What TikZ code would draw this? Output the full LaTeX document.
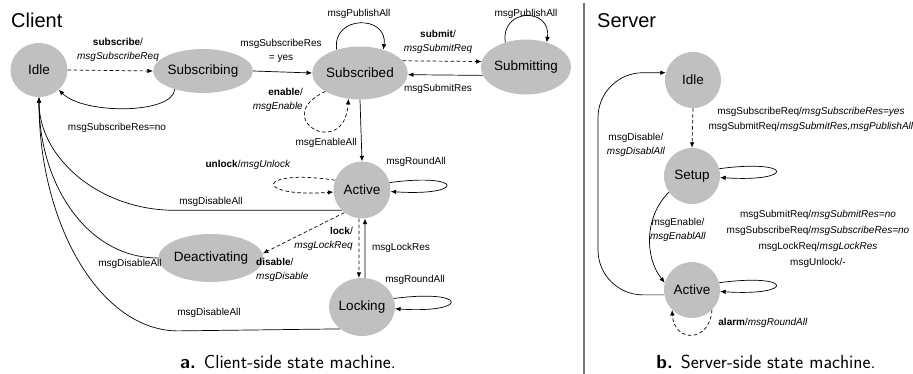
\documentclass[tikz,border=0pt]{standalone}
\usepackage{fontspec}
\setmainfont{Liberation Sans}
\usetikzlibrary{shapes.geometric,arrows.meta}
\definecolor{stategray}{RGB}{192,192,192}
\definecolor{divgray}{RGB}{120,120,120}
\tikzset{
 state/.style={ellipse, fill=stategray, inner sep=0pt, font=\fontsize{13.5}{15}\selectfont},
 lbl/.style={font=\fontsize{10}{14}\selectfont, inner sep=0pt, align=center},
 tr/.style={line width=0.7pt, -{Latex[length=5.5pt,width=4.5pt]}},
 dtr/.style={tr, dash pattern=on 3.5pt off 2.5pt},
 ttl/.style={font=\fontsize{20}{24}\selectfont, inner sep=0pt, anchor=base west},
 captext/.style={font=\sffamily\fontsize{19}{22}\selectfont, inner sep=0pt},
}
\begin{document}
\begin{tikzpicture}[x=1pt,y=1pt]
\useasboundingbox (0,0) rectangle (913,-374);
% ---------------- Client ----------------
\node[ttl] (ctitle) at (11,-28) {Client};
\node[state, minimum width=57pt, minimum height=54pt] (cidle) at (39,-70) {Idle};
\node[state, minimum width=80pt, minimum height=44pt] (csubing) at (203,-71) {Subscribing};
\node[state, minimum width=76pt, minimum height=53pt] (csubed) at (360,-73) {Subscribed};
\node[state, minimum width=72pt, minimum height=55pt] (csubmit) at (526,-67) {Submitting};
\node[state, minimum width=57pt, minimum height=57pt] (cactive) at (362,-190) {Active};
\node[state, minimum width=81pt, minimum height=48pt] (cdeact) at (211,-258) {Deactivating};
\node[state, minimum width=57pt, minimum height=58pt] (clock) at (362,-307) {Locking};

\draw[dtr] (cidle.east) -- (csubing.west);
\node[lbl] (l1) at (118,-50) {\textbf{subscribe}/\\\textit{msgSubscribeReq}};
\draw[tr] (csubing.213) .. controls +(-2,-25) and +(25,-25) .. (cidle.-45);
\node[lbl] (l2) at (117,-128) {msgSubscribeRes=no};
\draw[tr] (csubing.east) -- (csubed.west);
\node[lbl] (l3) at (281,-51) {msgSubscribeRes\\= yes};
\draw[tr] (csubed.135) .. controls +(-5,35) and +(5,35) .. (csubed.45);
\node[lbl] (l4) at (359,-14) {msgPublishAll};
\draw[dtr] (csubed.16) -- (csubmit.173);
\node[lbl] (l5) at (438,-42) {\textbf{submit}/\\\textit{msgSubmitReq}};
\draw[tr] (csubmit.191) -- (csubed.-2);
\node[lbl] (l6) at (438,-89) {msgSubmitRes};
\draw[tr] (csubmit.130) .. controls +(-5,35) and +(5,35) .. (csubmit.50);
\node[lbl] (l7) at (526,-14) {msgPublishAll};
\draw[dtr] (csubed.208) .. controls +(-57,-27) and +(-4,-62) .. (csubed.246);
\node[lbl, anchor=east, align=right] (l8) at (303,-100) {\textbf{enable}/\\\textit{msgEnable}};
\draw[tr] (csubed.south) -- (cactive.north);
\node[lbl, anchor=east] (l9) at (357,-143) {msgEnableAll};
\draw[tr] (cactive.15) .. controls +(75,10) and +(75,-5) .. (cactive.-3);
\node[lbl] (l10) at (416,-162) {msgRoundAll};
\draw[dtr] (cactive.160) .. controls +(-80,12) and +(-80,-6) .. (cactive.184);
\node[lbl] (l11) at (248,-165) {\textbf{unlock}/\textit{msgUnlock}};
\draw[tr] (cactive.225) -- ++(-167,0) .. controls +(-75,0) and +(0,-61) .. (cidle.-90);
\node[lbl] (l12) at (211,-202) {msgDisableAll};
\draw[dtr] (cactive.232) -- (cdeact.5);
\node[lbl, anchor=west, align=left] (l13) at (256,-270) {\textbf{disable}/\\\textit{msgDisable}};
\draw[tr] (cdeact.west) .. controls +(-72,0) and +(0,-86) .. (cidle.-90);
\node[lbl] (l14) at (130,-264) {msgDisableAll};
\draw[dtr] (cactive.264) -- (clock.96);
\draw[tr] (clock.84) -- (cactive.276);
\node[lbl, anchor=east, align=right] (l15) at (353,-239) {\textbf{lock}/\\\textit{msgLockReq}};
\node[lbl] (l16) at (401,-248) {msgLockRes};
\draw[tr] (clock.15) .. controls +(75,10) and +(75,-5) .. (clock.-3);
\node[lbl] (l17) at (415,-280) {msgRoundAll};
\draw[tr] (clock.225) -- ++(-162,-2) .. controls +(-78,0) and +(0,-127) .. (cidle.-90);
\node[lbl] (l18) at (209,-313) {msgDisableAll};
\node[captext] (capa) at (288,-362) {\textbf{a.} Client-side state machine.};
% ---------------- divider ----------------
\coordinate (div1) at (584,-3);
\coordinate (div2) at (584,-374);
\draw[divgray, line width=1.5pt] (div1) -- (div2);
% ---------------- Server ----------------
\node[ttl] (stitle) at (597,-28) {Server};
\node[state, minimum width=56pt, minimum height=56pt] (sidle) at (693,-80) {Idle};
\node[state, minimum width=56pt, minimum height=56pt] (ssetup) at (692,-176) {Setup};
\node[state, minimum width=56pt, minimum height=56pt] (sactive) at (692,-290) {Active};
\draw[dtr] (sidle.south) -- (ssetup.north);
\node[lbl, font=\fontsize{10}{15}\selectfont] (s1) at (811,-119) {msgSubscribeReq/\textit{msgSubscribeRes=yes}\\msgSubmitReq/\textit{msgSubmitRes,msgPublishAll}};
\draw[tr] (ssetup.15) .. controls +(75,10) and +(75,-5) .. (ssetup.-3);
\draw[tr] (ssetup.215) .. controls +(-25,-25) and +(-20,25) .. (sactive.165);
\node[lbl] (s2) at (678,-230) {msgEnable/\\\textit{msgEnablAll}};
\coordinate (sleft) at (598,-180);
\draw[tr, rounded corners=45pt] (sactive.190) -| (sleft) |- (sidle.165);
\node[lbl] (s3) at (636,-145) {msgDisable/\\\textit{msgDisablAll}};
\draw[tr] (sactive.15) .. controls +(75,10) and +(75,-5) .. (sactive.-3);
\node[lbl, font=\fontsize{10}{16}\selectfont] (s4) at (818,-239) {msgSubmitReq/\textit{msgSubmitRes=no}\\msgSubscribeReq/\textit{msgSubscribeRes=no}\\msgLockReq/\textit{msgLockRes}\\msgUnlock/-};
\draw[dtr] (sactive.-45) .. controls +(-2,-33) and +(2,-33) .. (sactive.-135);
\node[lbl] (s5) at (763,-323) {\textbf{alarm}/\textit{msgRoundAll}};
\node[captext] (capb) at (766,-362) {\textbf{b.} Server-side state machine.};
\end{tikzpicture}
\end{document}
